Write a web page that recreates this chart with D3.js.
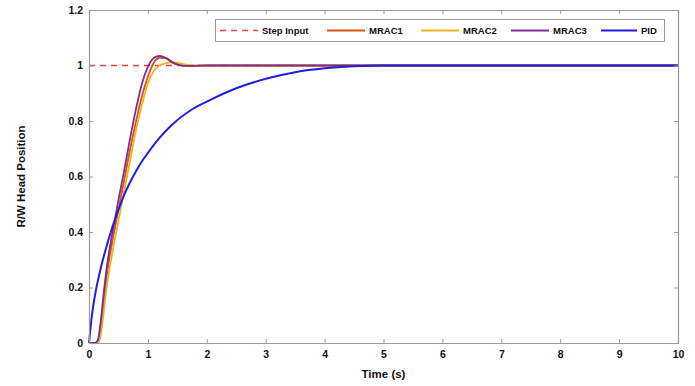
<!DOCTYPE html>
<html><head><meta charset="utf-8">
<script src="https://cdn.jsdelivr.net/npm/d3@7"></script>
<style>body{margin:0;background:#fff}svg{display:block}text{font-family:"Liberation Sans",Arial,sans-serif}</style>
</head><body><svg id="c" width="695" height="386"></svg>
<script>
const seriesNames = ["Step Input","MRAC1","MRAC2","MRAC3","PID"];
const xTicks = [0,1,2,3,4,5,6,7,8,9,10];
const yTicks = [0,0.2,0.4,0.6,0.8,1,1.2];
const stepInput = [[0,1],[10,1]];
const mrac1 = [[0,0],[0.1,0],[0.15,0],[0.2,0.05],[0.25,0.14],[0.3,0.24],[0.4,0.37],[0.5,0.48],[0.6,0.59],[0.7,0.7],[0.8,0.8],[0.9,0.89],[1.0,0.96],[1.1,1.01],[1.2,1.028],[1.3,1.027],[1.4,1.015],[1.5,1.005],[1.6,1.0],[1.8,0.999],[2,1],[3,1],[5,1],[10,1]];
const mrac2 = [[0,0],[0.1,0],[0.15,0],[0.2,0.03],[0.25,0.11],[0.3,0.2],[0.4,0.33],[0.5,0.44],[0.6,0.55],[0.7,0.66],[0.8,0.77],[0.9,0.86],[1.0,0.935],[1.1,0.98],[1.2,1.0],[1.3,1.008],[1.4,1.011],[1.5,1.01],[1.6,1.005],[1.7,1.001],[1.8,1.0],[2,1],[3,1],[5,1],[10,1]];
const mrac3 = [[0,0],[0.1,0],[0.15,0.01],[0.2,0.08],[0.25,0.18],[0.3,0.27],[0.35,0.34],[0.4,0.4],[0.5,0.515],[0.6,0.625],[0.7,0.74],[0.8,0.845],[0.9,0.935],[1.0,0.995],[1.1,1.027],[1.2,1.035],[1.3,1.028],[1.4,1.013],[1.5,1.003],[1.6,0.999],[1.8,0.999],[2,1],[3,1],[5,1],[10,1]];
const pid = [[0,0],[0.05,0.1],[0.1,0.17],[0.2,0.27],[0.3,0.35],[0.4,0.42],[0.5,0.48],[0.6,0.535],[0.7,0.58],[0.8,0.62],[0.9,0.655],[1.0,0.685],[1.2,0.74],[1.4,0.785],[1.7,0.835],[2.0,0.87],[2.5,0.918],[3.0,0.952],[3.5,0.976],[4.0,0.99],[4.5,0.997],[5,1.0],[6,1],[10,1]];

const svg = d3.select("#c");
const m = {l:89, r:17, t:10, b:43};
const W = 695, H = 386;
const x = d3.scaleLinear().domain([0,10]).range([m.l, W-m.r]);
const y = d3.scaleLinear().domain([0,1.2]).range([H-m.b, m.t]);
const axisColor = "#9a9a9a";

const line = d3.line().x(d=>x(d[0])).y(d=>y(d[1])).curve(d3.curveMonotoneX);
const sline = d3.line().x(d=>x(d[0])).y(d=>y(d[1]));

const series = [
  {name:seriesNames[0], data:stepInput, color:"#e8413c", w:1.6, dash:"6,5", gen:sline},
  {name:seriesNames[1], data:mrac1, color:"#D95319", w:1.8, gen:line},
  {name:seriesNames[2], data:mrac2, color:"#EDB120", w:1.8, gen:line},
  {name:seriesNames[3], data:mrac3, color:"#7E2F8E", w:1.8, gen:line},
  {name:seriesNames[4], data:pid, color:"#1f1fe0", w:2, gen:line}
];

const plot = svg.append("g");
series.forEach(s=>{
  plot.append("path").attr("d", s.gen(s.data)).attr("fill","none")
    .attr("stroke", s.color).attr("stroke-width", s.w)
    .attr("stroke-dasharray", s.dash||null);
});

// axes
const gx = svg.append("g").attr("transform",`translate(0,${H-m.b})`)
  .call(d3.axisBottom(x).tickValues(xTicks).tickSize(-4).tickPadding(8).tickFormat(d3.format("d")));
const gxt = svg.append("g").attr("transform",`translate(0,${m.t})`)
  .call(d3.axisTop(x).tickValues(xTicks).tickSize(-4).tickFormat(""));
const gy = svg.append("g").attr("transform",`translate(${m.l},0)`)
  .call(d3.axisLeft(y).tickValues(yTicks).tickSize(-4).tickPadding(6).tickFormat(d=>String(d)));
const gyr = svg.append("g").attr("transform",`translate(${W-m.r},0)`)
  .call(d3.axisRight(y).tickValues(yTicks).tickSize(-4).tickFormat(""));
[gx,gxt,gy,gyr].forEach(g=>{
  g.selectAll("path").attr("stroke",axisColor).attr("stroke-width",1.2);
  g.selectAll("line").attr("stroke",axisColor);
  g.selectAll("text").attr("fill","#111").attr("font-weight","bold").attr("font-size",10.5);
});

svg.append("text").attr("x",(m.l+W-m.r)/2).attr("y",378).attr("text-anchor","middle")
  .attr("font-weight","bold").attr("font-size",11.5).attr("fill","#111").text("Time (s)");
svg.append("text").attr("transform",`translate(25,${(m.t+H-m.b)/2}) rotate(-90)`).attr("text-anchor","middle")
  .attr("font-weight","bold").attr("font-size",11.5).attr("fill","#111").text("R/W Head Position");

// legend
const lg = svg.append("g");
lg.append("rect").attr("x",215.5).attr("y",19.5).attr("width",449).attr("height",22)
  .attr("fill","#fff").attr("stroke","#9a9a9a");
const legX = [220, 327, 421, 511, 601];
const legW = [38, 38, 38, 38, 36];
series.forEach((s,i)=>{
  lg.append("line").attr("x1",legX[i]).attr("x2",legX[i]+legW[i]).attr("y1",30.5).attr("y2",30.5)
    .attr("stroke",s.color).attr("stroke-width",s.w).attr("stroke-dasharray",s.dash||null);
  lg.append("text").attr("x",legX[i]+legW[i]+4).attr("y",34).attr("font-weight","bold")
    .attr("font-size",9.5).attr("fill","#111").text(s.name);
});
</script></body></html>
